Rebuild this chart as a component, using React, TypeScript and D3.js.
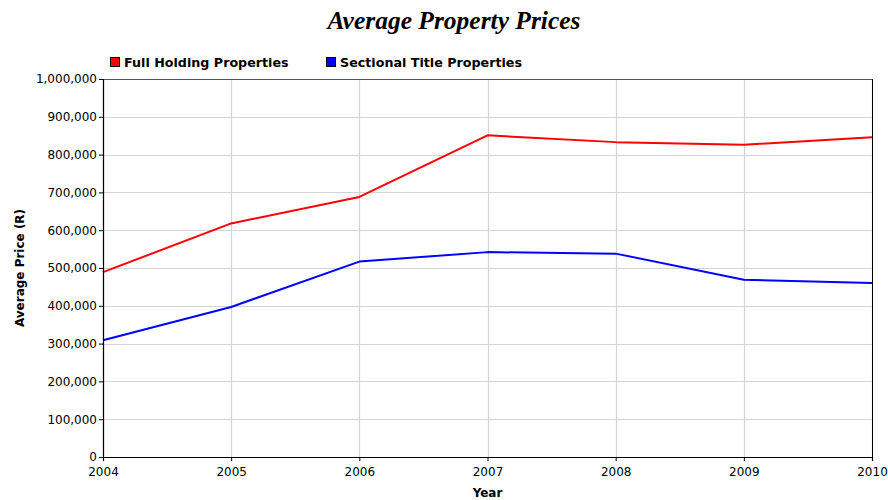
import { useEffect, useRef } from "react";
import * as d3 from "d3";

const YEARS = [2004, 2005, 2006, 2007, 2008, 2009, 2010];
const FULL_HOLDING = [489000, 618000, 688000, 851000, 833000, 826000, 846000];
const SECTIONAL_TITLE = [309000, 397000, 517000, 542000, 538000, 469000, 460000];
const Y_TICKS = [0, 100000, 200000, 300000, 400000, 500000, 600000, 700000, 800000, 900000, 1000000];

const SERIES = [
  { name: "Full Holding Properties", values: FULL_HOLDING, color: "#ff0000" },
  { name: "Sectional Title Properties", values: SECTIONAL_TITLE, color: "#0000ff" },
];

const WIDTH = 888;
const HEIGHT = 500;
const MARGIN = { top: 79, right: 16, bottom: 43, left: 103 };
const GRID_COLOR = "#d4d4d4";
const FONT = "'DejaVu Sans', Verdana, sans-serif";

function renderChart(el: SVGSVGElement | null) {
  if (!el) return;
  const svg = d3.select(el);
  svg.selectAll("*").remove();

  const innerW = WIDTH - MARGIN.left - MARGIN.right;
  const innerH = HEIGHT - MARGIN.top - MARGIN.bottom;

  const x = d3.scaleLinear().domain([2004, 2010]).range([0, innerW]);
  const y = d3.scaleLinear().domain([0, 1000000]).range([innerH, 0]);

  // Title
  svg
    .append("text")
    .attr("x", 454)
    .attr("y", 29)
    .attr("text-anchor", "middle")
    .attr("font-family", "'Liberation Serif', 'Times New Roman', serif")
    .attr("font-style", "italic")
    .attr("font-weight", "bold")
    .attr("font-size", 25.5)
    .attr("fill", "#000")
    .text("Average Property Prices");

  // Legend
  const legendX = [110, 326];
  SERIES.forEach((s, i) => {
    const g = svg.append("g").attr("transform", `translate(${legendX[i]},57)`);
    g.append("rect")
      .attr("x", 0.5)
      .attr("y", 0.5)
      .attr("width", 9)
      .attr("height", 9)
      .attr("fill", s.color)
      .attr("stroke", "#000");
    g.append("text")
      .attr("x", 14)
      .attr("y", 10)
      .attr("font-family", FONT)
      .attr("font-weight", "bold")
      .attr("font-size", 12.7)
      .attr("fill", "#000")
      .text(s.name);
  });

  const plot = svg.append("g").attr("transform", `translate(${MARGIN.left},${MARGIN.top})`);

  // Grid
  plot
    .selectAll("line.hgrid")
    .data(Y_TICKS)
    .join("line")
    .attr("x1", 0)
    .attr("x2", innerW)
    .attr("y1", (d) => Math.round(y(d)) + 0.5)
    .attr("y2", (d) => Math.round(y(d)) + 0.5)
    .attr("stroke", GRID_COLOR)
    .attr("stroke-width", 1.2);
  plot
    .selectAll("line.vgrid")
    .data(YEARS)
    .join("line")
    .attr("x1", (d) => Math.round(x(d)) + 0.5)
    .attr("x2", (d) => Math.round(x(d)) + 0.5)
    .attr("y1", 0)
    .attr("y2", innerH)
    .attr("stroke", GRID_COLOR)
    .attr("stroke-width", 1.2);

  // Frame (top, right)
  plot
    .append("line")
    .attr("x1", 0)
    .attr("x2", innerW)
    .attr("y1", 0.5)
    .attr("y2", 0.5)
    .attr("stroke", "#555");
  plot
    .append("line")
    .attr("x1", innerW + 0.5)
    .attr("x2", innerW + 0.5)
    .attr("y1", 0)
    .attr("y2", innerH)
    .attr("stroke", "#000");

  // Lines
  const line = d3
    .line<number>()
    .x((_, i) => x(YEARS[i]))
    .y((d) => y(d));
  SERIES.forEach((s) => {
    plot
      .append("path")
      .attr("d", line(s.values)!)
      .attr("fill", "none")
      .attr("stroke", s.color)
      .attr("stroke-width", 2)
      .attr("stroke-linejoin", "round");
  });

  // Axes
  const yAxis = plot
    .append("g")
    .call(
      d3
        .axisLeft(y)
        .tickValues(Y_TICKS)
        .tickSize(4)
        .tickPadding(2)
        .tickFormat((d) => d3.format(",")(d as number))
    );
  const xAxis = plot
    .append("g")
    .attr("transform", `translate(0,${innerH})`)
    .call(
      d3
        .axisBottom(x)
        .tickValues(YEARS)
        .tickSize(4)
        .tickPadding(6)
        .tickFormat((d) => String(d))
    );
  [yAxis, xAxis].forEach((a) => {
    a.select(".domain").attr("stroke", "#000").attr("stroke-width", 1.2);
    a.selectAll(".tick line").attr("stroke", "#000");
    a.selectAll(".tick text")
      .attr("font-family", FONT)
      .attr("font-size", 12)
      .attr("fill", "#000");
  });

  // Axis titles
  svg
    .append("text")
    .attr("transform", `translate(24,${MARGIN.top + innerH / 2}) rotate(-90)`)
    .attr("text-anchor", "middle")
    .attr("font-family", FONT)
    .attr("font-weight", "bold")
    .attr("font-size", 12)
    .attr("fill", "#000")
    .text("Average Price (R)");
  svg
    .append("text")
    .attr("x", MARGIN.left + innerW / 2)
    .attr("y", 497)
    .attr("text-anchor", "middle")
    .attr("font-family", FONT)
    .attr("font-weight", "bold")
    .attr("font-size", 12)
    .attr("fill", "#000")
    .text("Year");
}

export default function App() {
  const svgRef = useRef<SVGSVGElement>(null);

  useEffect(() => {
    renderChart(svgRef.current);
  }, []);

  return (
    <svg
      ref={svgRef}
      width={WIDTH}
      height={HEIGHT}
      style={{ position: "absolute", left: 0, top: 0, background: "#fff" }}
    />
  );
}
